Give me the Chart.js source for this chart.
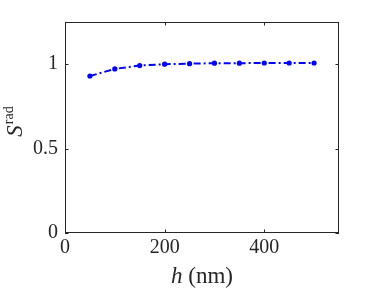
<!DOCTYPE html>
<html>
<head>
<meta charset="utf-8">
<script src="https://cdn.jsdelivr.net/npm/chart.js@4"></script>
<style>
  html, body { margin: 0; padding: 0; background: #fff; }
  #wrap { width: 374px; height: 295px; }
</style>
</head>
<body>
<div id="wrap"><canvas id="c" width="374" height="295"></canvas></div>
<script>
// data
const thickness = [50, 100, 150, 200, 250, 300, 350, 400, 450, 500];
const sRad = [0.930, 0.972, 0.992, 1.000, 1.003, 1.006, 1.006, 1.007, 1.007, 1.007];
const xTicks = [0, 200, 400];
const yTicks = [0, 0.5, 1];
const yTickLabels = ['0', '0.5', '1'];

const axisColor = '#262626';
const serif = '"Liberation Serif", "DejaVu Serif", serif';

// matlab-like box, inward ticks and mixed-style axis titles
const frame = {
    id: 'frame',
    afterDraw(chart) {
        const ctx = chart.ctx;
        const a = chart.chartArea;
        const xs = chart.scales.x, ys = chart.scales.y;
        const len = 3.5;
        ctx.save();
        ctx.strokeStyle = axisColor;
        ctx.lineWidth = 1;
        ctx.strokeRect(a.left + 0.5, a.top + 0.5, a.right - a.left - 1, a.bottom - a.top - 1);
        ctx.beginPath();
        xTicks.forEach(v => {
            const px = Math.round(xs.getPixelForValue(v)) + 0.5;
            ctx.moveTo(px, a.bottom); ctx.lineTo(px, a.bottom - len);
            ctx.moveTo(px, a.top); ctx.lineTo(px, a.top + len);
        });
        yTicks.forEach(v => {
            const py = Math.round(ys.getPixelForValue(v)) + 0.5;
            ctx.moveTo(a.left, py); ctx.lineTo(a.left + len, py);
            ctx.moveTo(a.right, py); ctx.lineTo(a.right - len, py);
        });
        ctx.stroke();

        // x title: italic h + (nm)
        ctx.fillStyle = axisColor;
        ctx.textBaseline = 'alphabetic';
        ctx.textAlign = 'left';
        const f1 = 'italic 23px ' + serif, f2 = '23px ' + serif;
        ctx.font = f1;
        const w1 = ctx.measureText('h').width;
        ctx.font = f2;
        const w2 = ctx.measureText(' (nm)').width;
        let x0 = 202 - (w1 + w2) / 2;
        ctx.font = f1; ctx.fillText('h', x0, 283);
        ctx.font = f2; ctx.fillText(' (nm)', x0 + w1, 283);

        // y title: S with superscript rad, rotated
        ctx.translate(22, 122);
        ctx.rotate(-Math.PI / 2);
        const g1 = 'italic 23px ' + serif, g2 = '14px ' + serif;
        ctx.font = g1;
        const s1 = ctx.measureText('S').width;
        ctx.font = g2;
        const s2 = ctx.measureText('rad').width;
        const y0 = -(s1 + s2) / 2;
        ctx.font = g1; ctx.fillText('S', y0, 0);
        ctx.font = g2; ctx.fillText('rad', y0 + s1 + 1, -9);
        ctx.restore();
    }
};

new Chart(document.getElementById('c'), {
    type: 'line',
    data: {
        datasets: [{
            data: thickness.map((h, i) => ({ x: h, y: sRad[i] })),
            borderColor: '#0000ff',
            backgroundColor: '#0000ff',
            borderWidth: 2,
            borderDash: [7, 3, 2, 3],
            pointRadius: 2.6,
            pointBorderWidth: 0,
            pointBackgroundColor: '#0000ff',
            tension: 0
        }]
    },
    options: {
        responsive: false,
        animation: false,
        layout: { padding: { left: 0, right: 35, top: 22, bottom: 0 } },
        plugins: { legend: { display: false }, tooltip: { enabled: false } },
        scales: {
            x: {
                type: 'linear',
                min: 0, max: 550,
                afterBuildTicks: s => { s.ticks = xTicks.map(v => ({ value: v })); },
                afterFit: s => { s.height = 62; },
                grid: { display: false, drawTicks: false },
                border: { display: false },
                ticks: { color: axisColor, font: { family: serif, size: 20 }, padding: 3, maxRotation: 0 }
            },
            y: {
                type: 'linear',
                min: 0, max: 1.25,
                afterBuildTicks: s => { s.ticks = yTicks.map(v => ({ value: v })); },
                afterFit: s => { s.width = 65; },
                grid: { display: false, drawTicks: false },
                border: { display: false },
                ticks: {
                    color: axisColor, font: { family: serif, size: 20 }, padding: 7,
                    callback: v => yTickLabels[yTicks.indexOf(v)] ?? ''
                }
            }
        }
    },
    plugins: [frame]
});
</script>
</body>
</html>
